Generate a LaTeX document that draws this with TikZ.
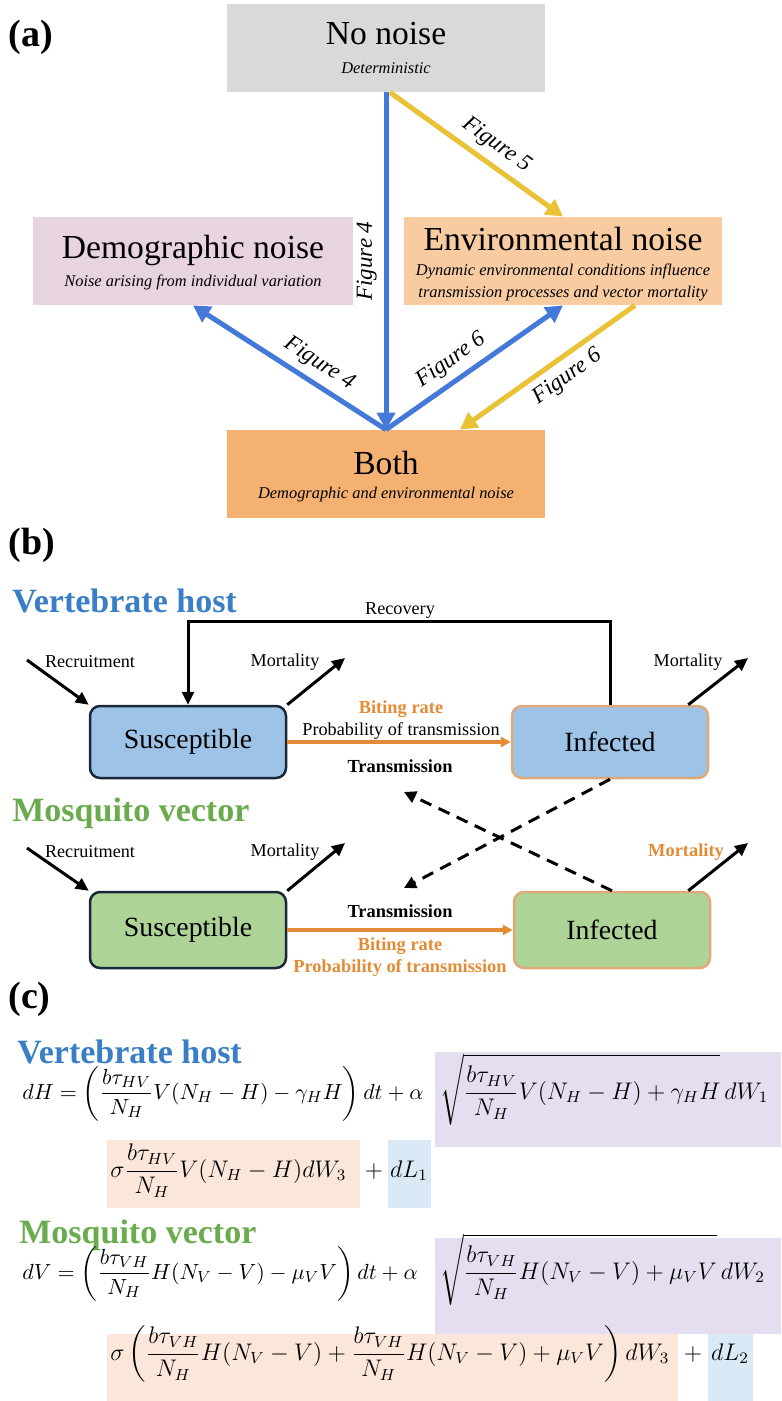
\documentclass[tikz,border=0pt]{standalone}
\usepackage{amsmath, amssymb}
\usepackage[no-math]{fontspec}
\setmainfont{Liberation Serif}
\usepackage{tikz}
\usetikzlibrary{arrows.meta, positioning, calc}

\definecolor{greyfill}{HTML}{D9D9D9}
\definecolor{pinkfill}{HTML}{E8D3E0}
\definecolor{peachfill}{HTML}{F8CBA0}
\definecolor{orangefill}{HTML}{F4B172}
\definecolor{arrowblue}{HTML}{4479D9}
\definecolor{arrowyellow}{HTML}{EAC236}
\definecolor{boxblue}{HTML}{9DC3E6}
\definecolor{boxgreen}{HTML}{ADD496}
\definecolor{darkedge}{HTML}{18283A}
\definecolor{tanedge}{HTML}{DFA97C}
\definecolor{rateorange}{HTML}{E38B35}
\definecolor{hostblue}{HTML}{3A7EC6}
\definecolor{vectorgreen}{HTML}{6AAB4E}
\definecolor{hlpurple}{HTML}{E5DDF0}
\definecolor{hlpeach}{HTML}{FBE7DA}
\definecolor{hlblue}{HTML}{DAE9F6}

\begin{document}
\begin{tikzpicture}[x=0.5pt, y=-0.5pt,
    noisebox/.style={rectangle, minimum width=159pt, minimum height=44pt, inner sep=0pt},
    compbox/.style={rectangle, rounded corners=5pt, line width=1.25pt, minimum width=98pt, minimum height=36pt, font=\fontsize{13.9}{16}\selectfont},
    bigtitle/.style={font=\fontsize{16.8}{20}\selectfont},
    subtxt/.style={font=\fontsize{8.2}{11}\selectfont\itshape, align=center},
    figlab/.style={font=\fontsize{11.5}{13}\selectfont\itshape},
    smalltxt/.style={font=\fontsize{9.1}{11}\selectfont},
    boldtxt/.style={font=\fontsize{9.2}{11}\selectfont\bfseries},
    heading/.style={font=\fontsize{17}{20}\selectfont\bfseries, anchor=base west, inner sep=0pt},
    panel/.style={font=\fontsize{19}{22}\selectfont\bfseries, anchor=base west, inner sep=0pt},
    eqtxt/.style={font=\fontsize{11.8}{14}\selectfont, inner sep=0pt},
    eqlead/.style={font=\fontsize{11.4}{14}\selectfont, inner sep=0pt},
    bluearr/.style={draw=arrowblue, line width=2.5pt, -{Triangle[length=8.5pt, width=9pt]}},
    yelarr/.style={draw=arrowyellow, line width=2.5pt, -{Triangle[length=8.5pt, width=9pt]}},
    blkarr/.style={draw=black, line width=1.5pt, -{Triangle[length=6.5pt, width=6pt]}},
    orarr/.style={draw=rateorange, line width=2pt, -{Triangle[length=5pt, width=5pt]}},
    dasharr/.style={draw=black, line width=1.5pt, dash pattern=on 6pt off 4pt, -{Triangle[length=6pt, width=6pt]}}]

  \path[use as bounding box, fill=white] (0,0) rectangle (781,1401);

  % (a) noise types
  \node[panel] (pa) at (8,47) {(a)};
  \node[noisebox, fill=greyfill] (nonoise) at (386,48) {};
  \node[bigtitle] (nonoiset) at (386,34) {No noise};
  \node[subtxt] (nonoises) at (386,68) {Deterministic};

  \node[noisebox, fill=pinkfill, minimum width=160pt] (demo) at (193,261) {};
  \node[bigtitle] (demot) at (193,250) {Demographic noise};
  \node[subtxt] (demos) at (193,282) {Noise arising from individual variation};

  \node[noisebox, fill=peachfill] (env) at (563,261) {};
  \node[bigtitle] (envt) at (563,239) {Environmental noise};
  \node[subtxt] (envs) at (563,282) {Dynamic environmental conditions influence\\transmission processes and vector mortality};

  \node[noisebox, fill=orangefill] (both) at (386,474) {};
  \node[bigtitle] (botht) at (386,463) {Both};
  \node[subtxt] (boths) at (386,495) {Demographic and environmental noise};

  \draw[yelarr] ($(nonoise.south)+(4,0)$) -- (env.north) node[figlab, pos=0.55, sloped, above] (f5) {Figure 5};
  \draw[bluearr] (nonoise.south) -- (both.north) node[figlab, midway, rotate=90, anchor=south] (f4a) {Figure 4};
  \draw[bluearr] (both.north) -- (demo.south) node[figlab, pos=0.4, sloped, above] (f4b) {Figure 4};
  \draw[bluearr] (both.north) -- (env.south) node[figlab, pos=0.43, sloped, above] (f6a) {Figure 6};
  \draw[yelarr] ($(env.south)+(72,0)$) -- ($(both.north)+(74,0)$) node[figlab, pos=0.45, sloped, below] (f6b) {Figure 6};

  % (b) host compartments
  \node[panel] (pb) at (8,554) {(b)};
  \node[heading, text=hostblue] (hosth) at (12,612) {Vertebrate host};
  \node[compbox, fill=boxblue, draw=darkedge] (sush) at (188,742) {Susceptible};
  \node[compbox, fill=boxblue, draw=tanedge] (infh) at (610,742) {Infected};

  \draw[blkarr] (infh.north) -- ++(0,-83) -| (sush.north);
  \node[smalltxt] (recov) at (400,611) {Recovery};

  \coordinate (rech) at (27,660);
  \coordinate (morsh) at (345,658);
  \coordinate (morih) at (748,658);
  \draw[blkarr] (rech) -- (sush.north west);
  \draw[blkarr] (sush.north east) -- (morsh);
  \draw[blkarr] ($(infh.north east)+(-21,0)$) -- (morih);
  \node[smalltxt] (rechl) at (90,662) {Recruitment};
  \node[smalltxt] (morshl) at (285,662) {Mortality};
  \node[smalltxt] (morihl) at (688,662) {Mortality};

  \draw[orarr] (sush.east) -- (infh.west);
  \node[boldtxt, text=rateorange] (biteh) at (401,709) {Biting rate};
  \node[smalltxt] (probh) at (401,731) {Probability of transmission};
  \node[boldtxt] (transh) at (400,766) {Transmission};

  % vector compartments
  \node[heading, text=vectorgreen] (vech) at (12,821) {Mosquito vector};
  \node[compbox, fill=boxgreen, draw=darkedge, minimum height=38pt] (susv) at (188,930) {Susceptible};
  \node[compbox, fill=boxgreen, draw=tanedge, minimum height=38pt] (infv) at (612,930) {Infected};

  \coordinate (recv) at (27,848);
  \coordinate (morsv) at (345,843);
  \coordinate (moriv) at (748,843);
  \draw[blkarr] (recv) -- (susv.north west);
  \draw[blkarr] (susv.north east) -- (morsv);
  \draw[blkarr] ($(infv.north east)+(-23,0)$) -- (moriv);
  \node[smalltxt] (recvl) at (90,852) {Recruitment};
  \node[smalltxt] (morsvl) at (285,852) {Mortality};
  \node[boldtxt, text=rateorange] (morivl) at (686,852) {Mortality};

  \draw[orarr] (susv.east) -- (infv.west);
  \node[boldtxt] (transv) at (400,911) {Transmission};
  \node[boldtxt, text=rateorange] (bitev) at (400,946) {Biting rate};
  \node[boldtxt, text=rateorange] (probv) at (400,968) {Probability of transmission};

  % cross transmission
  \coordinate (dtv) at (404,888);
  \coordinate (dth) at (404,792);
  \draw[dasharr] (infh.south) -- (dtv);
  \draw[dasharr] (infv.north) -- (dth);

  % (c) equations
  \node[panel] (pc) at (8,1008) {(c)};
  \node[heading, text=hostblue] (hostc) at (17,1063) {Vertebrate host};
  \fill[hlpurple] (435,1052) rectangle (781,1147);
  \fill[hlpeach] (107,1140) rectangle (360,1208);
  \fill[hlblue] (388,1140) rectangle (431,1208);
  \node[eqlead, anchor=base west] (eqha) at (22,1099) {$\displaystyle dH = \left(\frac{b\tau_{HV}}{N_H}V(N_H - H) - \gamma_H H\right)dt + \alpha$};
  \node[eqtxt, anchor=base west] (eqhb) at (440,1099) {$\displaystyle \sqrt{\frac{b\tau_{HV}}{N_H}V(N_H - H) + \gamma_H H}\,dW_1$};
  \node[eqtxt, anchor=base west] (eqhc) at (110,1177) {$\displaystyle \sigma\frac{b\tau_{HV}}{N_H}V(N_H - H)dW_3$};
  \node[eqtxt, anchor=base] (eqhp) at (374,1177) {$+$};
  \node[eqtxt, anchor=base] (eqhd) at (409,1177) {$dL_1$};

  \node[heading, text=vectorgreen] (vecc) at (19,1243) {Mosquito vector};
  \fill[hlpurple] (435,1238) rectangle (781,1334);
  \fill[hlpeach] (107,1334) rectangle (678,1401);
  \fill[hlblue] (708,1334) rectangle (753,1401);
  \node[eqlead, anchor=base west] (eqva) at (22,1279) {$\displaystyle dV = \left(\frac{b\tau_{VH}}{N_H}H(N_V - V) - \mu_V V\right)dt + \alpha$};
  \node[eqtxt, anchor=base west] (eqvb) at (440,1279) {$\displaystyle \sqrt{\frac{b\tau_{VH}}{N_H}H(N_V - V) + \mu_V V}\,dW_2$};
  \node[eqtxt, anchor=base west] (eqvc) at (110,1360) {$\displaystyle \sigma\left(\frac{b\tau_{VH}}{N_H}H(N_V - V) + \frac{b\tau_{VH}}{N_H}H(N_V - V) + \mu_V V\right)dW_3$};
  \node[eqtxt, anchor=base] (eqvp) at (693,1360) {$+$};
  \node[eqtxt, anchor=base] (eqvd) at (730,1360) {$dL_2$};
\end{tikzpicture}
\end{document}
